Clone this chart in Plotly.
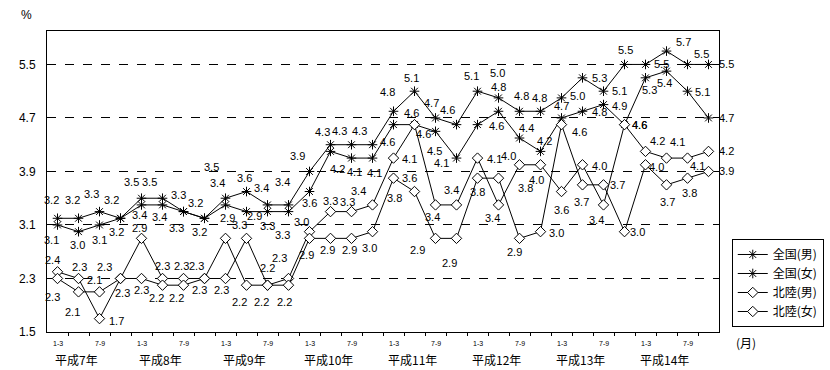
import plotly.graph_objects as go

# ---------------- data ----------------
quarters = list(range(32))  # 平成7年1-3月 ... 平成14年10-12月
years = ["平成7年", "平成8年", "平成9年", "平成10年", "平成11年", "平成12年", "平成13年", "平成14年"]
quarter_ticks = ["1-3", "7-9"]

zenkoku_m = [3.2, 3.2, 3.3, 3.2, 3.5, 3.5, 3.3, 3.2, 3.5, 3.6, 3.4, 3.4, 3.9, 4.3, 4.3, 4.3,
             4.8, 5.1, 4.7, 4.6, 5.1, 5.0, 4.8, 4.8, 5.0, 5.3, 5.1, 5.5, 5.5, 5.7, 5.5, 5.5]
zenkoku_f = [3.1, 3.0, 3.1, 3.2, 3.4, 3.4, 3.3, 3.2, 3.4, 3.3, 3.3, 3.3, 3.6, 4.2, 4.1, 4.1,
             4.6, 4.6, 4.5, 4.1, 4.6, 4.8, 4.4, 4.2, 4.7, 4.8, 4.9, 4.6, 5.3, 5.4, 5.1, 4.7]
hokuriku_m = [2.4, 2.3, 1.7, 2.3, 2.9, 2.3, 2.3, 2.3, 2.9, 2.2, 2.2, 2.3, 3.0, 3.3, 3.3, 3.4,
              4.1, 4.6, 3.4, 3.4, 4.1, 3.4, 4.0, 4.0, 3.6, 4.0, 3.4, 4.6, 4.2, 4.1, 4.1, 4.2]
hokuriku_f = [2.3, 2.1, 2.1, 2.3, 2.3, 2.2, 2.2, 2.3, 2.3, 2.9, 2.2, 2.2, 2.9, 2.9, 2.9, 3.0,
              3.8, 3.6, 2.9, 2.9, 3.8, 3.8, 2.9, 3.0, 4.6, 3.7, 3.7, 3.0, 4.0, 3.7, 3.8, 3.9]

y_ticks = [1.5, 2.3, 3.1, 3.9, 4.7, 5.5]

# ---------------- label offsets (pixels, dx right / dy down) ----------------
off_zm = [(-6, -18), (-6, -18), (-8, -18), (-9, -18), (-10, -16), (-13, -16), (-5, -17), (-9, -15),
          (-14, -31), (-2, -14), (-6, -17), (-6, -23), (-12, -15), (-8, -13), (-12, -14), (-13, -14),
          (-6, -19), (-3, -13), (-4, -15), (-9, -15), (-6, -15), (-1, -25), (2, -15), (-1, -13),
          (16, -2), (17, 0), (16, 0), (1, -14), (16, 0), (17, -9), (14, -10), (18, 0)]
off_zf = [(-6, 15), (-1, 13), (0, 15), (-4, 14), (-2, 10), (-3, 12), (-7, 16), (-5, 14),
          (-8, -22), (-7, 13), (0, 14), (-6, 23), (0, 11), (7, 18), (3, 14), (2, 15),
          (-6, 17), (-3, -12), (-1, 20), (-15, 5), (19, 1), (0, -24), (7, -10), (4, -10),
          (0, -12), (17, 1), (16, 1), (15, 0), (4, 12), (-2, 12), (15, 1), (18, 0)]
off_hm = [(-5, -12), (1, -11), (17, 2), (-16, -11), (-2, -10), (0, -12), (-2, -12), (-8, -12),
          (2, -20), (-7, 17), (0, -17), (-9, -20), (-8, -10), (0, -11), (-4, -10), (-14, -14),
          (16, 1), (9, 9), (-3, 12), (-5, -15), (17, 1), (-6, 13), (-11, -9), (-4, 15),
          (0, 18), (17, 1), (-7, 15), (15, 0), (12, -10), (11, -16), (10, 8), (18, 0)]
off_hf = [(-5, 19), (-6, 20), (-5, -12), (2, 15), (0, 12), (-6, 13), (-7, 13), (-5, 12),
          (-4, 12), (8, -22), (-6, 17), (-4, 17), (-3, 17), (-3, 12), (-2, 12), (-3, 16),
          (1, 20), (-5, -14), (-18, 12), (-7, 25), (0, 14), (27, 10), (-5, 14), (16, 1),
          (18, 7), (-1, 17), (14, 0), (13, 0), (11, 2), (1, 17), (2, 15), (18, 0)]

NUM_FONT = "Liberation Sans, Arial, sans-serif"
JP_FONT = "Noto Sans CJK JP, sans-serif"

fig = go.Figure()

series = [
    ("全国(男)", zenkoku_m, "asterisk-open", off_zm),
    ("全国(女)", zenkoku_f, "asterisk-open", off_zf),
    ("北陸(男)", hokuriku_m, "diamond", off_hm),
    ("北陸(女)", hokuriku_f, "diamond", off_hf),
]

annotations = []
for name, vals, sym, offs in series:
    if sym == "diamond":
        marker = dict(symbol="diamond", size=8, color="white",
                      line=dict(color="black", width=1))
    else:
        marker = dict(symbol="asterisk-open", size=8, color="black",
                      line=dict(color="black", width=1))
    fig.add_trace(go.Scatter(
        x=quarters, y=vals, name=name, mode="lines+markers",
        line=dict(color="black", width=1), marker=marker,
        cliponaxis=False,
    ))
    for q, v, (dx, dy) in zip(quarters, vals, offs):
        annotations.append(dict(
            x=q, y=v, xref="x", yref="y", text=f"{v:.1f}", showarrow=False,
            xanchor="center", yanchor="middle",
            xshift=dx, yshift=-dy, font=dict(family=NUM_FONT, size=11, color="black"),
        ))

# quarter tick labels and year labels
for k, yr in enumerate(years):
    for j, lab in enumerate(quarter_ticks):
        annotations.append(dict(
            x=4 * k + 2 * j, y=-0.037, xref="x", yref="paper", text=lab,
            showarrow=False, xanchor="center", yanchor="middle",
            font=dict(family=NUM_FONT, size=7, color="black"),
        ))
    annotations.append(dict(
        x=4 * k + 1, y=-0.093, xref="x", yref="paper", text=yr, showarrow=False,
        xanchor="center", yanchor="middle",
        xshift=-2, font=dict(family=JP_FONT, size=12, color="black"),
    ))

annotations.append(dict(x=1.022, y=-0.035, xref="paper", yref="paper", text="(月)",
                        showarrow=False, xanchor="left", yanchor="middle",
                        font=dict(family=JP_FONT, size=12, color="black")))
annotations.append(dict(x=-0.03, y=1.053, xref="paper", yref="paper", text="%",
                        showarrow=False, xanchor="center", yanchor="middle",
                        font=dict(family=NUM_FONT, size=12, color="black")))

fig.update_layout(
    width=830, height=370,
    margin=dict(l=47, r=111, t=31, b=38, autoexpand=False),
    paper_bgcolor="white", plot_bgcolor="white",
    annotations=annotations,
    showlegend=True,
    legend=dict(x=1.019, y=0.309, xanchor="left", yanchor="top",
                bordercolor="black", borderwidth=1, bgcolor="white",
                font=dict(family=JP_FONT, size=12, color="black"),
                itemwidth=30, tracegroupgap=0),
    font=dict(family=NUM_FONT, color="black"),
)
fig.update_xaxes(
    range=[-0.5, 31.5], showgrid=False, zeroline=False,
    showline=True, mirror=True, linecolor="black", linewidth=1,
    tickvals=[q + 0.5 for q in quarters[:-1]], ticktext=[""] * 31,
    ticks="outside", ticklen=3, tickcolor="black", showticklabels=False,
)
fig.update_yaxes(
    range=[1.5, 6.0], tickvals=y_ticks, ticktext=[f"{t:.1f}" for t in y_ticks],
    showgrid=True, gridcolor="black", griddash="dash", gridwidth=1,
    zeroline=False, showline=True, mirror=True, linecolor="black", linewidth=1,
    ticks="", tickfont=dict(family=NUM_FONT, size=12, color="black"), ticklabelstandoff=8,
)

fig.write_html(
    "out.html",
    config={"displayModeBar": False},
    post_script="document.body.style.margin='0px';document.body.style.overflow='hidden';",
)
